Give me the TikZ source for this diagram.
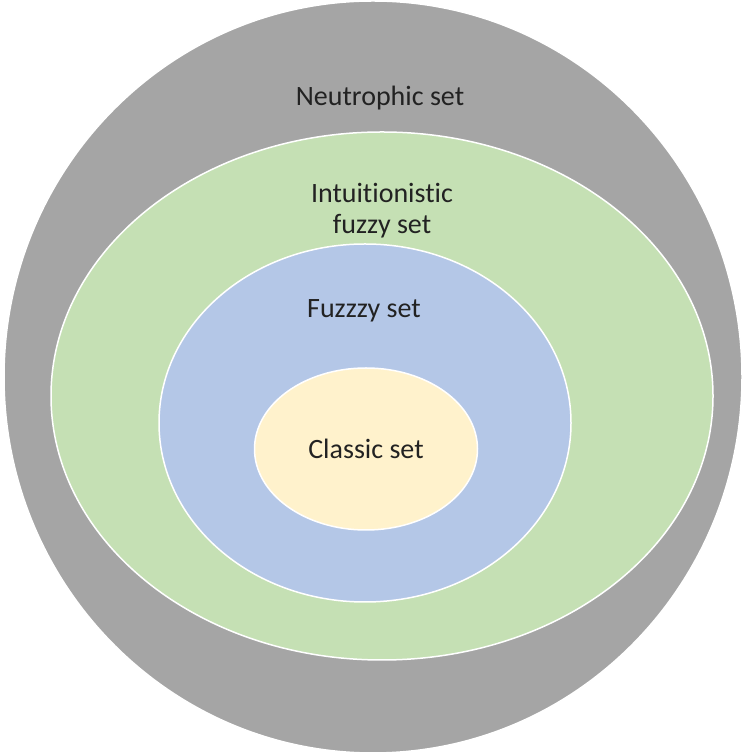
\documentclass[tikz,border=0pt]{standalone}
\usepackage{fontspec}
\setmainfont[Ligatures={NoCommon}]{Carlito}
\usetikzlibrary{positioning}
\usetikzlibrary{shapes.geometric}
\definecolor{neutrogray}{HTML}{A5A5A5}
\definecolor{intugreen}{HTML}{C5E0B4}
\definecolor{fuzzyblue}{HTML}{B4C7E7}
\definecolor{classicyellow}{HTML}{FFF2CC}
\definecolor{settext}{HTML}{222222}
\tikzset{
	setring/.style={
		ellipse,
		draw=white, line width=1.5pt,
		inner sep=0pt, outer sep=0pt},
	setlabel/.style={
		text=settext,
		font=\fontsize{28}{31}\selectfont,
		align=center, inner sep=0pt},
}

\begin{document}
\begin{tikzpicture}
	[x=1pt,y=1pt]
	
	\useasboundingbox[fill=white] (0,0) rectangle (744,754);
	
	\node[setring, fill=neutrogray, minimum width=738pt, minimum height=752pt] (neutro) at (373,377) {};
	\node[setring, fill=intugreen, minimum width=662pt, minimum height=528pt] (intu) at (382,358) {};
	\node[setring, fill=fuzzyblue, minimum width=412pt, minimum height=358pt] (fuzzy) at (365,331) {};
	\node[setring, fill=classicyellow, minimum width=223pt, minimum height=162pt] (classic) at (366,305) {};
	
	\node[setlabel] (neutrolabel) at (380,656) {Neutrophic set};
	\node[setlabel] (intulabel) at (382,543) {Intuitionistic\\fuzzy set};
	\node[setlabel] (fuzzylabel) at (364,443) {Fuzzzy set};
	\node[setlabel] (classiclabel) at (classic.center) {Classic set};
	
\end{tikzpicture}
\end{document}
